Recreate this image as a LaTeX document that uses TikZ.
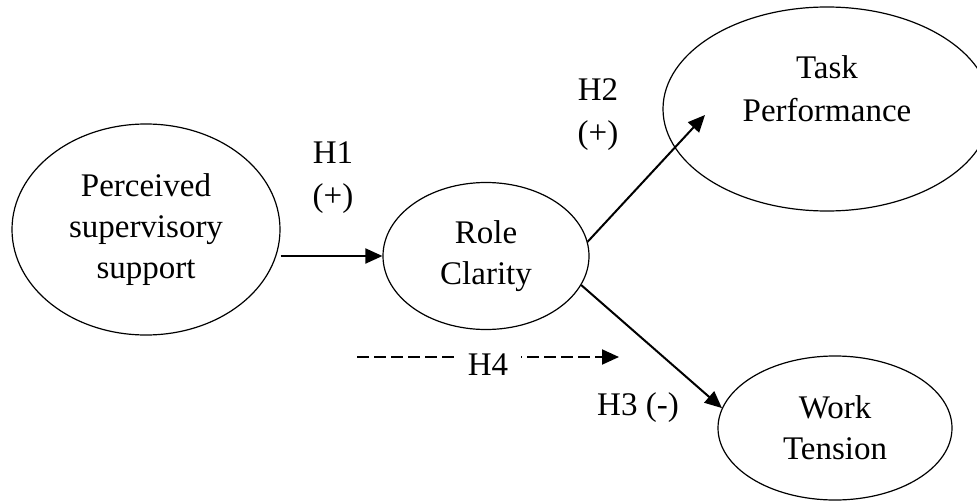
\documentclass[tikz,border=0pt]{standalone}
\usepackage{fontspec}
\setmainfont{Liberation Serif}
\usetikzlibrary{shapes.geometric,arrows.meta}
\tikzstyle{construct} = [ellipse, draw=black, line width=1.2pt, inner sep=0pt, align=center, font=\fontsize{33}{41}\selectfont]
\tikzstyle{hyp} = [align=center, font=\fontsize{33}{43}\selectfont]
\tikzstyle{arrow} = [line width=2pt, -{Triangle[length=17pt, width=15pt]}]

\begin{document}
\begin{tikzpicture}[x=1pt, y=-1pt]
      \useasboundingbox (0,0) rectangle (977,503);
      \clip (0,0) rectangle (977,503);
      \node (pss)[construct, minimum width=268pt, minimum height=211pt] at (146,229.5) {Perceived\\supervisory\\support};
      \node (rc)[construct, minimum width=206pt, minimum height=147pt] at (486,256) {Role\\Clarity};
      \node (tp)[construct, minimum width=328pt, minimum height=204pt] at (827,109) {};
      \node (tptext)[hyp, font=\fontsize{33}{43}\selectfont] at ([yshift=20pt]tp.center) {Task\\Performance};
      \node (wt)[construct, minimum width=234pt, minimum height=144pt] at (835,428) {Work\\Tension};
      \coordinate (h2tip) at (705,115);
      \coordinate (h4start) at (357,357);
      \coordinate (h4end) at (619,357);
      \node (h1)[hyp] at (333,178) {H1\\(+)};
      \node (h2)[hyp] at (598,115) {H2\\(+)};
      \node (h3)[hyp] at (638,408) {H3 (-)};
      \draw [arrow](pss.east |- rc.west)--(rc.west);
      \draw [arrow](rc.8)--(h2tip);
      \draw [arrow](rc.-17)--(wt.170);
      \draw [arrow, dash pattern=on 12pt off 5pt](h4start)--(h4end) node[midway, fill=white, inner xsep=13pt, yshift=-8pt, font=\fontsize{33}{40}\selectfont] (h4) {H4};
    \end{tikzpicture}
\end{document}
